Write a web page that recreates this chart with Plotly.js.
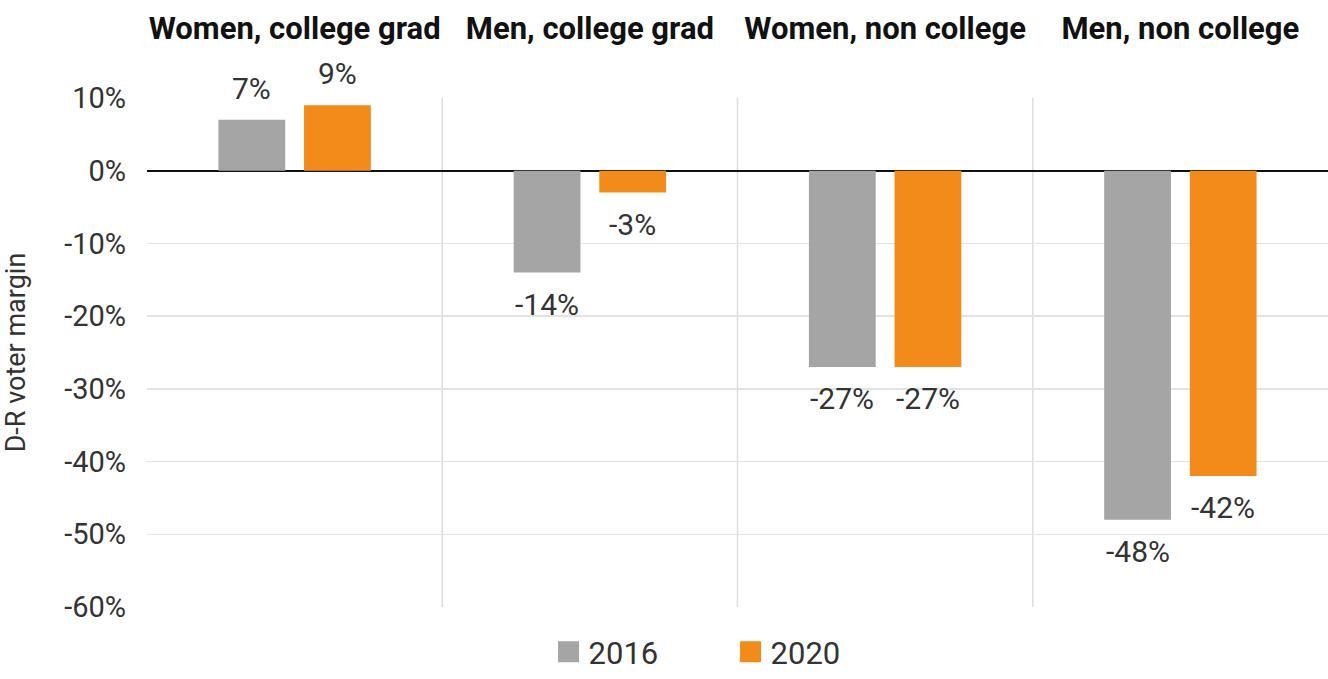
<!DOCTYPE html>
<html>
<head>
<meta charset="utf-8">
<script src="https://cdn.plot.ly/plotly-3.0.1.min.js"></script>
<style>
  html, body { margin: 0; padding: 0; background: #fff; }
  #chart { width: 1328px; height: 679px; }
</style>
</head>
<body>
<div id="chart"></div>
<script>
// ---- Data ----
const categories = ["Women, college grad", "Men, college grad", "Women, non college", "Men, non college"];
const seriesNames = ["2016", "2020"];
const values2016 = [7, -14, -27, -48];
const values2020 = [9, -3, -27, -42];
const yTickVals = [10, 0, -10, -20, -30, -40, -50, -60];
const yTickText = ["10%", "0%", "-10%", "-20%", "-30%", "-40%", "-50%", "-60%"];

// ---- Styles ----
const colors = ["#a5a5a5", "#f28b1a"];
const FONT = "Roboto, 'Open Sans', Arial, sans-serif";
const seriesValues = [values2016, values2020];
const xIdx = categories.map((c, i) => i);

const traces = seriesValues.map((vals, s) => ({
  type: "bar",
  name: seriesNames[s],
  x: xIdx,
  y: vals,
  marker: { color: colors[s] },
  showlegend: false,
  hoverinfo: "skip"
}));

// legend entries (square swatches) for each series
seriesNames.forEach((name, s) => {
  traces.push({
    type: "scatter",
    mode: "markers",
    name: name,
    x: [null],
    y: [null],
    marker: { symbol: "square", size: 30, color: colors[s], line: { color: colors[s], width: 6 } },
    showlegend: true,
    hoverinfo: "skip"
  });
});

// value labels placed from the data via axis coordinates
const annotations = [];
seriesValues.forEach((vals, s) => {
  vals.forEach((v, i) => {
    annotations.push({
      xref: "x", yref: "y",
      x: i, y: v,
      xshift: s === 0 ? -42.7 : 42.7,
      yanchor: v >= 0 ? "bottom" : "top",
      yshift: v >= 0 ? 12 : -12,
      text: v + "%",
      showarrow: false,
      font: { family: FONT, size: 30, color: "#333333" }
    });
  });
});

// vertical separators between categories
const shapes = categories.slice(0, -1).map((c, i) => ({
  type: "line", xref: "x", yref: "y",
  x0: i + 0.5, x1: i + 0.5, y0: -60, y1: 10,
  line: { color: "#dddddd", width: 1.5 },
  layer: "below"
}));

const layout = {
  width: 1328, height: 679,
  margin: { l: 147, r: 0, t: 98, b: 72 },
  paper_bgcolor: "#ffffff",
  plot_bgcolor: "#ffffff",
  font: { family: FONT, color: "#333333" },
  barmode: "group",
  bargap: 0.42,
  bargroupgap: 0.22,
  showlegend: true,
  legend: {
    orientation: "h",
    x: 0.34, xanchor: "left",
    y: -0.142, yanchor: "bottom",
    font: { family: FONT, size: 31, color: "#333333" },
    entrywidth: 137, entrywidthmode: "pixels",
    itemsizing: "trace",
    traceorder: "normal"
  },
  xaxis: {
    type: "linear",
    side: "top",
    range: [-0.5, categories.length - 0.5],
    tickvals: xIdx,
    ticktext: categories.map(c => "<b>" + c + "</b>"),
    ticks: "",
    ticklabelstandoff: 52,
    showgrid: false,
    zeroline: false,
    showline: false,
    tickfont: { family: FONT, size: 31, color: "#111111" },
    fixedrange: true
  },
  yaxis: {
    range: [-60, 10],
    tickvals: yTickVals,
    ticktext: yTickText,
    ticks: "",
    ticklabelstandoff: 20,
    showgrid: true,
    gridcolor: "#e3e3e3",
    gridwidth: 1.5,
    zeroline: true,
    zerolinecolor: "#111111",
    zerolinewidth: 2,
    showline: false,
    tickfont: { family: FONT, size: 29, color: "#333333" },
    title: { text: "D-R voter margin", font: { family: FONT, size: 27, color: "#333333" }, standoff: 30 },
    fixedrange: true
  },
  annotations: annotations,
  shapes: shapes
};

Plotly.newPlot("chart", traces, layout, { displayModeBar: false, staticPlot: true });
</script>
</body>
</html>
